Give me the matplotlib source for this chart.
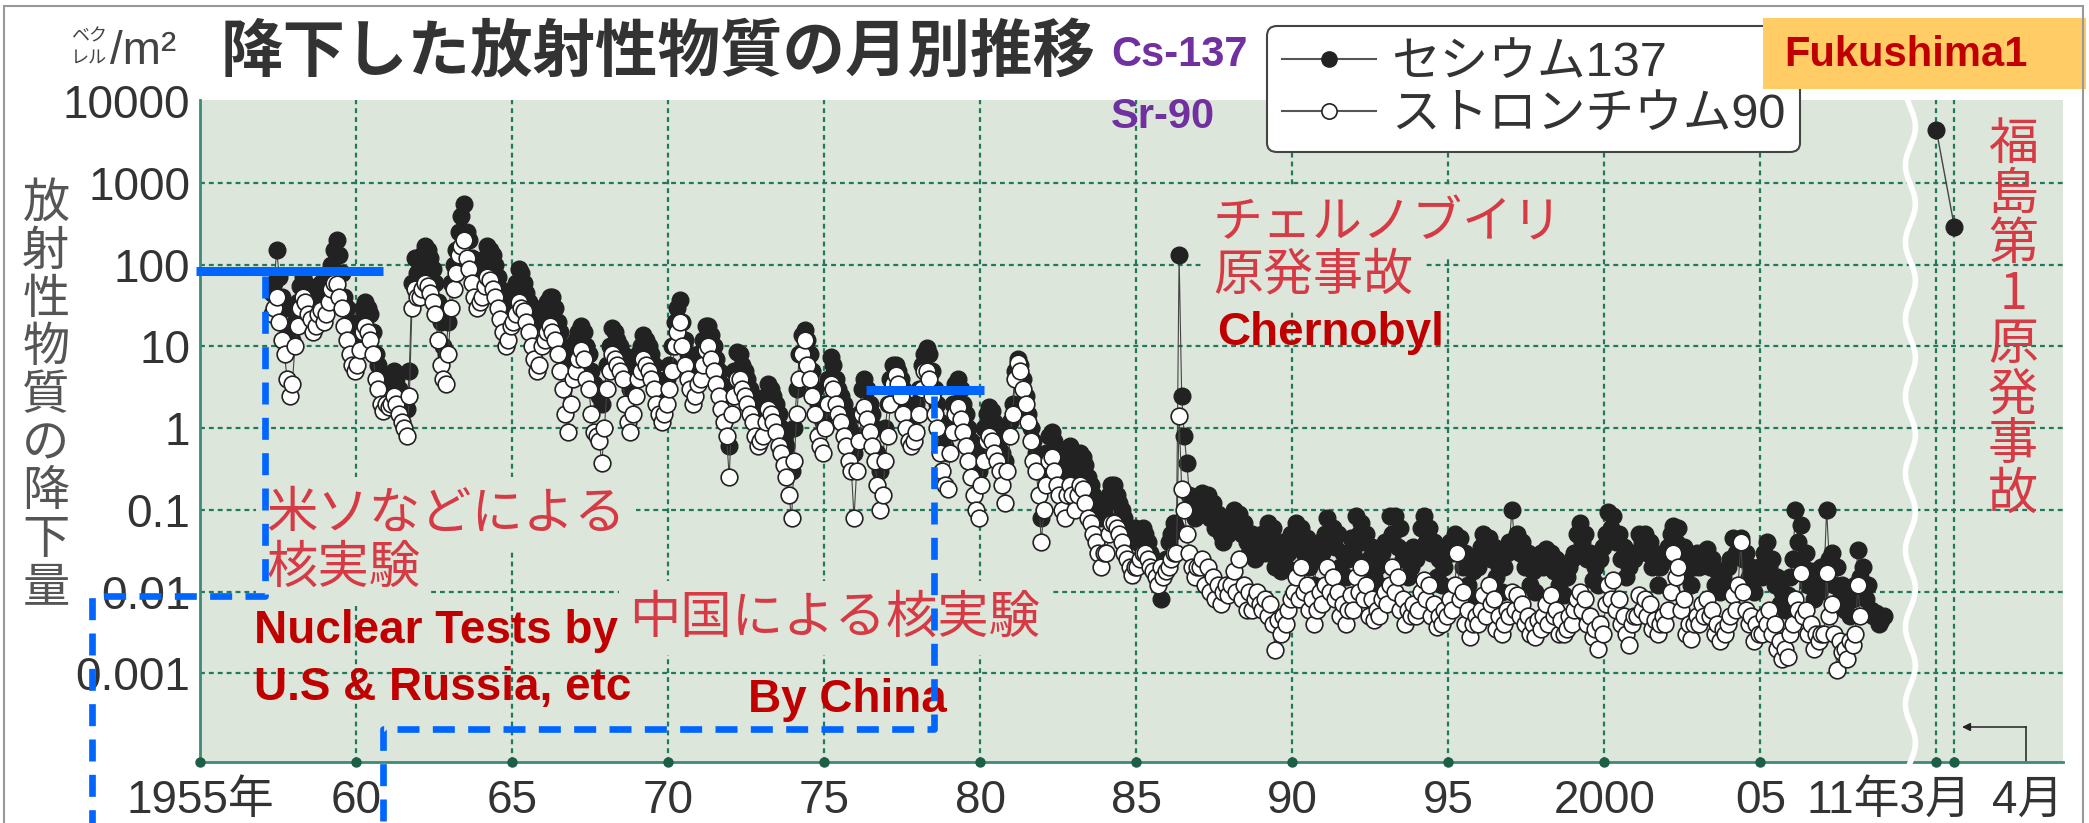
import numpy as np
import pandas as pd
import matplotlib
matplotlib.use("Agg")
import matplotlib.pyplot as plt
from matplotlib.lines import Line2D
from matplotlib.patches import Rectangle

# ---------------------------------------------------------------------------
# monthly fallout (Bq/m2), April 1957 - December 2008
# ---------------------------------------------------------------------------
cs137_1950s = [
    45, 60, 150, 70, 40, 30, 14, 10, 12,                              # 1957 Apr-Dec
    20, 35, 55, 70, 60, 50, 45, 35, 40, 55, 60, 45,                   # 1958
    50, 70, 100, 150, 200, 130, 80, 40, 30, 20, 15, 12,               # 1959
]
cs137_1960s = [
    12, 20, 30, 35, 30, 25, 15, 8, 6, 4, 3.5, 4,                      # 1960
    3, 4, 5, 4, 3, 2.5, 2, 1.7, 5, 60, 120, 80,                       # 1961
    100, 130, 170, 150, 120, 90, 60, 35, 20, 10, 8, 20,               # 1962
    60, 100, 150, 250, 400, 550, 250, 200, 120, 80, 60, 80,           # 1963
    80, 120, 170, 150, 130, 100, 70, 50, 40, 30, 35, 45,              # 1964
    50, 60, 90, 80, 60, 45, 35, 30, 25, 20, 25, 30,                   # 1965
    25, 35, 40, 40, 30, 20, 15, 10, 8, 6, 8, 10,                      # 1966
    12, 15, 18, 15, 10, 8, 5, 3.5, 3, 2.5, 2, 3,                      # 1967
    6, 10, 17, 15, 12, 10, 8, 6, 4, 3, 5, 6,                          # 1968
    8, 10, 14, 12, 10, 8, 6, 4, 3, 2.5, 3, 4,                         # 1969
]
cs137_1970s = [
    6, 10, 20, 30, 37, 20, 12, 8, 6, 5, 6, 8,                         # 1970
    8, 12, 18, 18, 14, 10, 7, 5, 3.5, 2.5, 1.5, 0.6,                  # 1971
    3, 5, 8.5, 8, 6, 5, 4, 3, 2.5, 2, 1.8, 2,                         # 1972
    1.5, 2.5, 3.5, 3, 2.5, 2, 1.5, 1, 0.8, 0.6, 0.4, 0.3,             # 1973
    1, 3, 8, 14, 16, 12, 8, 5, 3, 2, 1.5, 1.2,                        # 1974
    2, 4, 7.5, 6, 4, 3, 2.5, 2, 1.5, 1, 0.8, 0.5,                     # 1975
    0.8, 1.5, 3, 4, 3, 2, 1.5, 1, 0.5, 0.3, 0.4, 1,                   # 1976
    2, 4, 6, 6, 5, 4, 3, 2, 1.5, 1.2, 1.5, 2,                         # 1977
    3, 6, 8, 9.5, 8, 5, 3, 2, 1.2, 0.8, 0.6, 0.5,                     # 1978
    1, 2, 3.5, 4, 3, 2, 1.5, 1, 0.7, 0.5, 0.4, 0.3,                   # 1979
]
cs137_1980s = [
    0.5, 1, 1.5, 1.8, 1.6, 1.2, 1, 0.8, 0.5, 0.4, 0.8, 1.2,           # 1980
    2, 5, 7, 6, 4, 2.5, 1.5, 1, 0.7, 0.5, 0.3, 0.08,                  # 1981
    0.3, 0.5, 0.8, 0.9, 0.7, 0.5, 0.4, 0.3, 0.35, 0.5, 0.6, 0.5,      # 1982
    0.3, 0.4, 0.5, 0.45, 0.35, 0.25, 0.2, 0.15, 0.12, 0.1, 0.08, 0.1, # 1983
    0.08, 0.15, 0.2, 0.2, 0.15, 0.12, 0.1, 0.08, 0.06, 0.05, 0.05, 0.06,        # 1984
    0.04, 0.05, 0.06, 0.05, 0.04, 0.03, 0.025, 0.02, 0.015, 0.008, 0.02, 0.025, # 1985
    0.04, 0.05, 0.07, 0.06, 130, 2.5, 0.8, 0.37, 0.15, 0.12, 0.08, 0.1,         # 1986
    0.12, 0.16, 0.1, 0.15, 0.08, 0.12, 0.06, 0.09, 0.05, 0.04, 0.07, 0.05,      # 1987
    0.07, 0.1, 0.06, 0.09, 0.05, 0.07, 0.04, 0.03, 0.05, 0.025, 0.04, 0.03,     # 1988
    0.05, 0.03, 0.07, 0.04, 0.06, 0.02, 0.03, 0.018, 0.04, 0.02, 0.03, 0.05,    # 1989
]
cs137_1990s = [
    0.04, 0.07, 0.05, 0.06, 0.03, 0.045, 0.02, 0.03, 0.012, 0.025, 0.04, 0.03,     # 1990
    0.05, 0.08, 0.04, 0.06, 0.035, 0.05, 0.02, 0.03, 0.015, 0.025, 0.045, 0.03,    # 1991
    0.085, 0.05, 0.07, 0.04, 0.05, 0.025, 0.035, 0.015, 0.02, 0.012, 0.03, 0.04,   # 1992
    0.04, 0.085, 0.05, 0.085, 0.035, 0.06, 0.025, 0.03, 0.015, 0.02, 0.035, 0.025, # 1993
    0.03, 0.06, 0.085, 0.04, 0.06, 0.03, 0.04, 0.015, 0.025, 0.012, 0.02, 0.03,    # 1994
    0.04, 0.03, 0.05, 0.035, 0.045, 0.02, 0.03, 0.012, 0.008, 0.018, 0.025, 0.02,  # 1995
    0.035, 0.05, 0.03, 0.045, 0.025, 0.035, 0.015, 0.02, 0.01, 0.02, 0.03, 0.04,   # 1996
    0.1, 0.04, 0.05, 0.03, 0.04, 0.02, 0.03, 0.012, 0.018, 0.01, 0.025, 0.03,      # 1997
    0.02, 0.033, 0.025, 0.03, 0.018, 0.025, 0.012, 0.015, 0.009, 0.015, 0.02, 0.025,   # 1998
    0.03, 0.05, 0.07, 0.04, 0.05, 0.025, 0.03, 0.014, 0.02, 0.012, 0.025, 0.035,       # 1999
]
cs137_2000s = [
    0.05, 0.095, 0.06, 0.085, 0.04, 0.05, 0.025, 0.035, 0.015, 0.02, 0.03, 0.025,      # 2000
    0.03, 0.05, 0.04, 0.05, 0.03, 0.04, 0.02, 0.025, 0.012, 0.02, 0.03, 0.025,         # 2001
    0.035, 0.05, 0.063, 0.04, 0.06, 0.03, 0.035, 0.018, 0.025, 0.012, 0.02, 0.03,      # 2002
    0.02, 0.03, 0.025, 0.033, 0.02, 0.025, 0.012, 0.018, 0.01, 0.015, 0.012, 0.02,     # 2003
    0.025, 0.045, 0.03, 0.04, 0.045, 0.025, 0.03, 0.015, 0.02, 0.01, 0.015, 0.02,      # 2004
    0.015, 0.03, 0.04, 0.02, 0.025, 0.012, 0.015, 0.007, 0.01, 0.006, 0.009, 0.015,    # 2005
    0.025, 0.1, 0.04, 0.065, 0.02, 0.03, 0.012, 0.018, 0.008, 0.012, 0.01, 0.02,       # 2006
    0.015, 0.1, 0.025, 0.03, 0.012, 0.02, 0.008, 0.012, 0.006, 0.009, 0.005, 0.008,    # 2007
    0.012, 0.032, 0.015, 0.02, 0.008, 0.012, 0.006, 0.005, 0.0055, 0.004, 0.0045, 0.005,  # 2008
]

sr90_1950s = [
    25, 30, 40, 20, 12, 8, 4, 2.5, 3.5,                               # 1957 Apr-Dec
    10, 18, 30, 40, 35, 25, 22, 15, 18, 25, 28, 20,                   # 1958
    25, 35, 50, 60, 58, 40, 30, 18, 12, 8, 6, 5,                      # 1959
]
sr90_1960s = [
    6, 9, 15, 18, 15, 12, 8, 4, 3, 2, 1.6, 2,                         # 1960
    1.8, 2, 2.5, 2, 1.5, 1.2, 1, 0.8, 2.5, 30, 50, 40,                # 1961
    40, 50, 60, 55, 45, 35, 25, 12, 6, 4, 3.5, 8,                     # 1962
    30, 50, 80, 130, 170, 200, 120, 90, 60, 40, 30, 35,               # 1963
    40, 55, 70, 65, 50, 40, 30, 22, 15, 10, 12, 18,                   # 1964
    20, 25, 35, 30, 27, 20, 15, 10, 7, 5, 6, 10,                      # 1965
    12, 15, 18, 15, 12, 8, 5, 3, 1.5, 0.9, 2, 4,                      # 1966
    5, 7, 9, 7, 4, 3, 1.5, 0.9, 0.8, 0.7, 0.37, 1,                    # 1967
    3, 5, 8, 7, 6, 5, 4, 2, 1.2, 0.9, 1.5, 2.5,                       # 1968
    4, 5, 7, 6, 5, 4, 3, 2, 1.5, 1.2, 1.5, 2,                         # 1969
]
sr90_1970s = [
    3, 5, 10, 15, 20, 10, 6, 4, 3, 2, 2.5, 3.5,                       # 1970
    4, 6, 9, 10, 7, 5, 3.5, 2.5, 1.7, 1.2, 0.8, 0.25,                 # 1971
    1.5, 2.5, 4, 4, 3, 2.5, 2, 1.5, 1.2, 0.8, 0.6, 0.7,               # 1972
    0.8, 1.2, 1.7, 1.5, 1.2, 0.9, 0.6, 0.5, 0.35, 0.25, 0.15, 0.08,   # 1973
    0.4, 1.5, 4, 8, 12, 6, 4, 2.5, 1.5, 0.8, 0.6, 0.5,                # 1974
    1, 2, 3.5, 3, 2, 1.5, 1.2, 0.8, 0.6, 0.4, 0.3, 0.08,              # 1975
    0.3, 0.7, 1.5, 1.8, 1.3, 0.9, 0.6, 0.4, 0.2, 0.1, 0.15, 0.4,      # 1976
    0.8, 2, 3.5, 4.5, 3.5, 2.5, 1.5, 1, 0.7, 0.6, 0.7, 0.9,           # 1977
    1.5, 3, 5, 5, 4, 2.5, 1.5, 1, 0.5, 0.3, 0.2, 0.18,                # 1978
    0.5, 0.9, 1.5, 1.8, 1.3, 0.9, 0.6, 0.4, 0.25, 0.15, 0.1, 0.08,    # 1979
]
sr90_1980s = [
    0.2, 0.4, 0.7, 0.8, 0.7, 0.5, 0.4, 0.3, 0.2, 0.12, 0.3, 0.8,      # 1980
    1.5, 4, 6.2, 5, 3, 2, 1.2, 0.7, 0.4, 0.3, 0.15, 0.04,             # 1981
    0.1, 0.2, 0.4, 0.45, 0.3, 0.2, 0.15, 0.1, 0.08, 0.15, 0.2, 0.15,  # 1982
    0.1, 0.15, 0.2, 0.18, 0.12, 0.08, 0.07, 0.05, 0.04, 0.03, 0.02, 0.03,         # 1983
    0.03, 0.05, 0.07, 0.07, 0.06, 0.05, 0.04, 0.03, 0.025, 0.02, 0.016, 0.02,     # 1984
    0.02, 0.025, 0.03, 0.03, 0.025, 0.02, 0.018, 0.015, 0.012, 0.02, 0.015, 0.018,# 1985
    0.02, 0.025, 0.03, 0.03, 1.4, 0.18, 0.1, 0.05, 0.03, 0.02, 0.015, 0.02,       # 1986
    0.02, 0.025, 0.012, 0.02, 0.01, 0.015, 0.008, 0.012, 0.007, 0.01, 0.012, 0.009,   # 1987
    0.012, 0.018, 0.01, 0.025, 0.008, 0.012, 0.006, 0.01, 0.006, 0.008, 0.01, 0.007,  # 1988
    0.006, 0.008, 0.005, 0.007, 0.004, 0.0019, 0.0045, 0.003, 0.005, 0.004, 0.006, 0.008,  # 1989
]
sr90_1990s = [
    0.01, 0.015, 0.008, 0.02, 0.01, 0.012, 0.006, 0.008, 0.004, 0.006, 0.01, 0.007,      # 1990
    0.012, 0.02, 0.01, 0.015, 0.008, 0.01, 0.005, 0.007, 0.004, 0.006, 0.009, 0.006,     # 1991
    0.015, 0.01, 0.02, 0.008, 0.012, 0.005, 0.008, 0.0045, 0.006, 0.005, 0.008, 0.01,    # 1992
    0.007, 0.012, 0.02, 0.01, 0.015, 0.006, 0.008, 0.004, 0.006, 0.005, 0.007, 0.005,    # 1993
    0.006, 0.01, 0.014, 0.008, 0.012, 0.005, 0.007, 0.0037, 0.005, 0.004, 0.006, 0.005,  # 1994
    0.008, 0.006, 0.012, 0.03, 0.008, 0.01, 0.004, 0.006, 0.0028, 0.004, 0.005, 0.004,   # 1995
    0.006, 0.009, 0.005, 0.012, 0.007, 0.008, 0.0035, 0.005, 0.003, 0.004, 0.006, 0.005, # 1996
    0.01, 0.006, 0.009, 0.005, 0.007, 0.004, 0.005, 0.003, 0.004, 0.0028, 0.0045, 0.0035,   # 1997
    0.005, 0.007, 0.004, 0.009, 0.005, 0.006, 0.003, 0.0045, 0.003, 0.0035, 0.005, 0.004,  # 1998
    0.006, 0.008, 0.01, 0.006, 0.008, 0.004, 0.005, 0.0028, 0.0035, 0.002, 0.004, 0.003,   # 1999
]
sr90_2000s = [
    0.007, 0.012, 0.008, 0.014, 0.006, 0.008, 0.004, 0.005, 0.003, 0.0022, 0.004, 0.005,  # 2000
    0.005, 0.009, 0.006, 0.008, 0.005, 0.007, 0.0035, 0.0045, 0.003, 0.004, 0.005, 0.004, # 2001
    0.006, 0.01, 0.03, 0.015, 0.02, 0.006, 0.008, 0.003, 0.004, 0.0026, 0.004, 0.005,     # 2002
    0.004, 0.007, 0.005, 0.008, 0.005, 0.006, 0.003, 0.004, 0.0025, 0.0035, 0.003, 0.004, # 2003
    0.005, 0.009, 0.006, 0.012, 0.04, 0.01, 0.006, 0.004, 0.005, 0.0025, 0.004, 0.003,   # 2004
    0.003, 0.005, 0.004, 0.006, 0.003, 0.004, 0.002, 0.0025, 0.0015, 0.002, 0.0016, 0.003,# 2005
    0.004, 0.008, 0.006, 0.017, 0.005, 0.006, 0.003, 0.004, 0.002, 0.003, 0.0025, 0.003, # 2006
    0.003, 0.017, 0.005, 0.007, 0.003, 0.0011, 0.0025, 0.0018, 0.002, 0.0015, 0.0025, 0.0022,  # 2007
    0.003, 0.012, 0.005, np.nan, np.nan, np.nan, np.nan, np.nan, np.nan, np.nan, np.nan, np.nan,  # 2008
]

# Fukushima Daiichi accident: March and April 2011 (Cs-137 only)
fuku_cs137 = [4500, 290]
fuku_pos = [2010.64, 2011.22]      # where those two months sit after the axis break
break_pos = 2009.81

xtick_years = [1955, 1960, 1965, 1970, 1975, 1980, 1985, 1990, 1995, 2000, 2005]
xtick_labels = ["1955年", "60", "65", "70", "75", "80", "85", "90", "95", "2000", "05"]
ytick_vals = [1e-3, 1e-2, 1e-1, 1, 10, 100, 1000, 10000]
ytick_labels = ["0.001", "0.01", "0.1", "1", "10", "100", "1000", "10000"]

months = pd.date_range("1957-04-01", "2008-12-01", freq="MS")
x_month = months.year + (months.month - 0.5) / 12
cs137 = np.array(cs137_1950s + cs137_1960s + cs137_1970s + cs137_1980s + cs137_1990s + cs137_2000s, float)
sr90 = np.array(sr90_1950s + sr90_1960s + sr90_1970s + sr90_1980s + sr90_1990s + sr90_2000s, float)

# ---------------------------------------------------------------------------
W, H = 2089, 823
plt.rcParams["font.family"] = ["Liberation Sans", "Noto Sans CJK JP", "DejaVu Sans"]
JP = ["Noto Sans CJK JP", "DejaVu Sans"]
BG = "#dde6db"
GRID = "#1f7a5c"
RED_JP = "#d63a45"
RED_EN = "#c00000"
BLUE = "#0066ff"

fig = plt.figure(figsize=(W / 100, H / 100), dpi=100)
ax = fig.add_axes([200 / W, 1 - 762 / H, (2063 - 200) / W, (762 - 100) / H])


def put(x, y, s, **kw):
    """text placed by pixel position of the 2089x823 picture"""
    return ax.text(x / W, 1 - y / H, s, transform=fig.transFigure, **kw)


ax.set_facecolor(BG)
ax.set_yscale("log")
ax.set_ylim(8.2e-5, 1.04e4)
ax.set_xlim(1955, 2014.7)
ax.set_yticks(ytick_vals, ytick_labels)
ax.yaxis.set_minor_locator(matplotlib.ticker.NullLocator())
ax.set_xticks(xtick_years, xtick_labels)
ax.tick_params(axis="both", length=0, labelsize=33, labelcolor="#333")
ax.tick_params(axis="y", pad=7)
ax.tick_params(axis="x", pad=12)
for s in ["top", "right"]:
    ax.spines[s].set_visible(False)
for s in ["left", "bottom"]:
    ax.spines[s].set_color("#3d8a75")
    ax.spines[s].set_linewidth(2)

# dashed grid
for v in ytick_vals[:-1]:
    ax.axhline(v, color=GRID, ls=(0, (2.2, 1.8)), lw=1.6, zorder=1)
for v in xtick_years[1:] + fuku_pos:
    ax.axvline(v, color=GRID, ls=(0, (2.2, 1.8)), lw=1.6, zorder=1)
ax.plot(xtick_years + fuku_pos, np.zeros(len(xtick_years) + 2), "o", ms=6.5,
        color="#1d5e48", transform=ax.get_xaxis_transform(), clip_on=False, zorder=6)

# data
ax.plot(x_month, cs137, "-o", color="#444", lw=0.8, ms=12, mfc="#222", mec="#222", zorder=3)
ax.plot(x_month, sr90, "-o", color="#444", lw=0.8, ms=12, mfc="white", mec="#222", mew=1.2, zorder=4)
ax.plot(fuku_pos, fuku_cs137, "-o", color="#444", lw=1.0, ms=12, mfc="#222", mec="#222", zorder=4)

# axis break
yy = np.linspace(1.0, -0.017, 400)
wave = break_pos + 0.16 * np.sin(yy * 662 / 77 * 2 * np.pi)
ax.plot(wave, yy, color="white", lw=4, transform=ax.get_xaxis_transform(), clip_on=False, zorder=7)

# x labels after the break
put(1889, 779, "11年3月", fontsize=33, color="#333", ha="center", va="top")
put(2028, 779, "4月", fontsize=33, color="#333", ha="center", va="top")
ax.add_artist(Line2D([2026 / W, 2026 / W], [1 - 768 / H, 1 - 727 / H], color="#222", lw=1.1,
                     transform=fig.transFigure))
ax.annotate("", xy=(1962 / W, 1 - 727 / H), xytext=(2026 / W, 1 - 727 / H),
            xycoords=fig.transFigure, textcoords=fig.transFigure,
            arrowprops=dict(arrowstyle="-|>", lw=1.1, color="#222", mutation_scale=12,
                            shrinkA=0, shrinkB=0))

# titles and unit
put(221, 52, "降下した放射性物質の月別推移", fontsize=45, fontweight="bold", color="#333",
    family=JP, va="center")
put(89, 36, "ベク", fontsize=13, family=JP, color="#444", ha="center", va="center")
put(89, 58, "レル", fontsize=13, family=JP, color="#444", ha="center", va="center")
put(110, 52, "/m²", fontsize=33, color="#444", va="center")
for i, ch in enumerate("放射性物質の降下量"):
    put(46, 204 + 48 * i, ch, fontsize=34, family=JP, color="#555", ha="center", va="center")

put(1111, 55, "Cs-137", fontsize=30, fontweight="bold", color="#7030a0", va="center")
put(1111, 117, "Sr-90", fontsize=30, fontweight="bold", color="#7030a0", va="center")

# legend
h_cs = Line2D([], [], color="#555", lw=1.5, marker="o", ms=11, mfc="#222", mec="#222")
h_sr = Line2D([], [], color="#555", lw=1.5, marker="o", ms=11, mfc="white", mec="#222", mew=1.2)
leg = ax.legend([h_cs, h_sr], ["セシウム137", "ストロンチウム90"], loc="upper left",
                bbox_to_anchor=(1267 / W, 1 - 26 / H), bbox_transform=fig.transFigure,
                numpoints=1, handlelength=1.95, handletextpad=0.3, borderpad=0.3,
                labelspacing=0.15, borderaxespad=0, frameon=True, fancybox=True,
                framealpha=1, edgecolor="#444", facecolor="white", labelcolor="#333",
                prop=dict(family=["Liberation Sans", "Noto Sans CJK JP"], size=35))
leg.get_frame().set_linewidth(1.5)
leg.set_zorder(8)

# Fukushima1 tag
fig.add_artist(Rectangle((1763 / W, 1 - 89 / H), (2086 - 1763) / W, (89 - 18) / H,
                         transform=fig.transFigure, facecolor="#ffcc66", edgecolor="none", zorder=10))
fig.text(1784 / W, 1 - 55 / H, "Fukushima1", fontsize=30, fontweight="bold", color=RED_EN,
         va="center", zorder=11)

# red annotations
box = dict(boxstyle="square,pad=0.2", facecolor=BG, edgecolor="none")
put(1213, 223, "チェルノブイリ", fontsize=36, family=JP, color=RED_JP, va="center", bbox=box, zorder=2)
put(1213, 275, "原発事故", fontsize=36, family=JP, color=RED_JP, va="center", bbox=box, zorder=2)
put(1217, 345, "Chernobyl", fontsize=33, fontweight="bold", color=RED_EN, zorder=5)
put(266, 514, "米ソなどによる", fontsize=37, family=JP, color=RED_JP, va="center", bbox=box, zorder=2)
put(266, 568, "核実験", fontsize=37, family=JP, color=RED_JP, va="center", bbox=box, zorder=2)
put(254, 643, "Nuclear Tests by", fontsize=33, fontweight="bold", color=RED_EN, zorder=5)
put(254, 700, "U.S & Russia, etc", fontsize=33, fontweight="bold", color=RED_EN, zorder=5)
put(629, 618, "中国による核実験", fontsize=37, family=JP, color=RED_JP, va="center", bbox=box, zorder=2)
put(748, 712, "By China", fontsize=33, fontweight="bold", color=RED_EN, zorder=5)
for i, ch in enumerate("福島第1原発事故"):
    put(2013, 145 + 50 * i, ch, fontsize=36, family=JP, color=RED_JP, ha="center", va="center", zorder=2)

# blue highlight marks
ax.plot([1954.87, 1960.87], [85, 85], color=BLUE, lw=6.5, solid_capstyle="butt", clip_on=False, zorder=9)
ax.plot([1957.08, 1957.08, 1951.54, 1951.54], [73, 0.0088, 0.0088, 1e-5], color=BLUE, lw=4.8,
        ls=(0, (3.3, 2.0)), clip_on=False, zorder=9)
ax.plot([1976.35, 1980.13], [2.92, 2.92], color=BLUE, lw=6.5, solid_capstyle="butt", clip_on=False, zorder=9)
ax.plot([1978.53, 1978.53, 1960.87, 1960.87], [2.47, 2.07e-4, 2.07e-4, 1e-5], color=BLUE, lw=4.8,
        ls=(0, (3.3, 2.0)), clip_on=False, zorder=9)

# outer frame
fig.add_artist(Rectangle((4 / W, -0.05), (2083 - 4) / W, 1.05 - 6 / H, transform=fig.transFigure,
                         fill=False, edgecolor="#999", lw=1.5, zorder=12))

fig.savefig("out.png", dpi=100, facecolor="white")
